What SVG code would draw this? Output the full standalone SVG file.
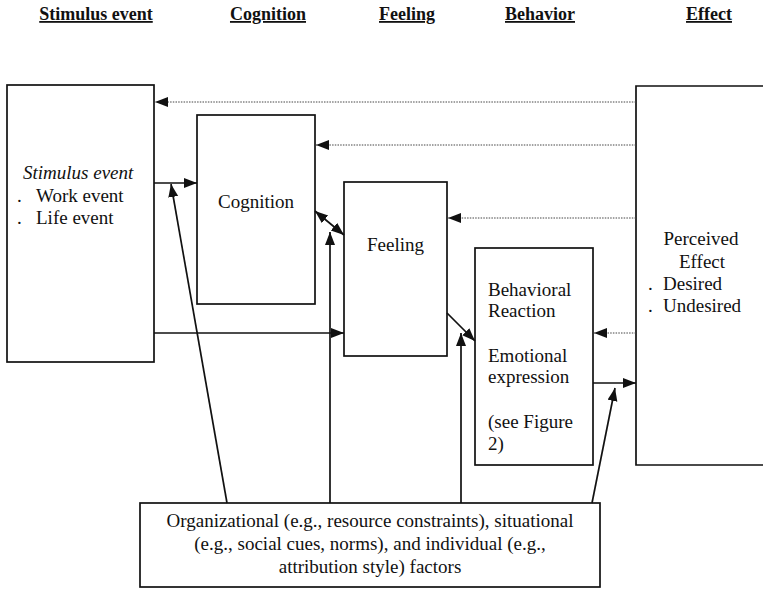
<svg xmlns="http://www.w3.org/2000/svg" width="763" height="589" viewBox="0 0 763 589">
<style>
  .box { fill: #fff; stroke: #111; stroke-width: 1.7; }
  text { font-family: 'Liberation Serif', Tinos, 'DejaVu Serif', serif; fill: #111; }
  .t { font-size: 19px; }
  .h { font-size: 18px; font-weight: bold; text-decoration: underline; text-anchor: middle; }
  .c { text-anchor: middle; }
  .solid { fill: none; stroke: #111; stroke-width: 1.7; }
  .dot { fill: none; stroke: #444; stroke-width: 1; stroke-dasharray: 1.5 1.2; }
</style>
<defs>
  <marker id="ah" markerUnits="userSpaceOnUse" markerWidth="14" markerHeight="12" refX="13" refY="5" orient="auto-start-reverse">
    <path d="M0,0 L13,5 L0,10 Z" fill="#111"/>
  </marker>
</defs>
<rect width="763" height="589" fill="#fff"/>

<g id="headers">
  <text class="h" x="96" y="20">Stimulus event</text>
  <text class="h" x="268" y="20">Cognition</text>
  <text class="h" x="407" y="20">Feeling</text>
  <text class="h" x="540" y="20">Behavior</text>
  <text class="h" x="709" y="20">Effect</text>
</g>

<g id="stimulus">
  <rect class="box" x="7" y="85" width="147" height="277"/>
  <text class="t" x="23" y="179" font-style="italic">Stimulus event</text>
  <text class="t" y="202"><tspan x="17">.</tspan><tspan x="36">Work event</tspan></text>
  <text class="t" y="224"><tspan x="17">.</tspan><tspan x="36">Life event</tspan></text>
</g>

<g id="cognition">
  <rect class="box" x="197" y="115" width="118" height="189"/>
  <text class="t c" x="256" y="208">Cognition</text>
</g>

<g id="feeling">
  <rect class="box" x="344" y="182" width="103" height="174"/>
  <text class="t c" x="395.5" y="251">Feeling</text>
</g>

<g id="behavior">
  <rect class="box" x="475" y="248" width="118" height="217"/>
  <text class="t" x="488" y="296">Behavioral</text>
  <text class="t" x="488" y="317">Reaction</text>
  <text class="t" x="488" y="362">Emotional</text>
  <text class="t" x="488" y="383">expression</text>
  <text class="t" x="488" y="428">(see Figure</text>
  <text class="t" x="488" y="450">2)</text>
</g>

<g id="effect">
  <path class="box" d="M765,86 H636 V465 H765"/>
  <text class="t c" x="701" y="245">Perceived</text>
  <text class="t c" x="702" y="268">Effect</text>
  <text class="t" y="290"><tspan x="648">.</tspan><tspan x="663">Desired</tspan></text>
  <text class="t" y="312"><tspan x="648">.</tspan><tspan x="663">Undesired</tspan></text>
</g>

<g id="factors">
  <rect class="box" x="140" y="503" width="460" height="84"/>
  <text class="t c" x="370" y="527">Organizational (e.g., resource constraints), situational</text>
  <text class="t c" x="370" y="550">(e.g., social cues, norms), and individual (e.g.,</text>
  <text class="t c" x="370" y="573">attribution style) factors</text>
</g>

<g id="connectors">
  <line class="dot" x1="636" y1="102" x2="155" y2="102" marker-end="url(#ah)"/>
  <line class="dot" x1="636" y1="145" x2="316" y2="145" marker-end="url(#ah)"/>
  <line class="dot" x1="636" y1="218" x2="448" y2="218" marker-end="url(#ah)"/>
  <line class="dot" x1="636" y1="333" x2="594" y2="333" marker-end="url(#ah)"/>
  <line class="solid" x1="154" y1="183" x2="197" y2="183" marker-end="url(#ah)"/>
  <line class="solid" x1="154" y1="333" x2="344" y2="333" marker-end="url(#ah)"/>
  <line class="solid" x1="315" y1="211" x2="344" y2="235" marker-start="url(#ah)" marker-end="url(#ah)"/>
  <line class="solid" x1="447" y1="313" x2="475" y2="341" marker-end="url(#ah)"/>
  <line class="solid" x1="593" y1="383" x2="636" y2="383" marker-end="url(#ah)"/>
  <line class="solid" x1="227" y1="503" x2="171" y2="184" marker-end="url(#ah)"/>
  <line class="solid" x1="330" y1="503" x2="330" y2="232" marker-end="url(#ah)"/>
  <line class="solid" x1="461" y1="503" x2="461" y2="333" marker-end="url(#ah)"/>
  <line class="solid" x1="592" y1="503" x2="615" y2="388" marker-end="url(#ah)"/>
</g>
</svg>
